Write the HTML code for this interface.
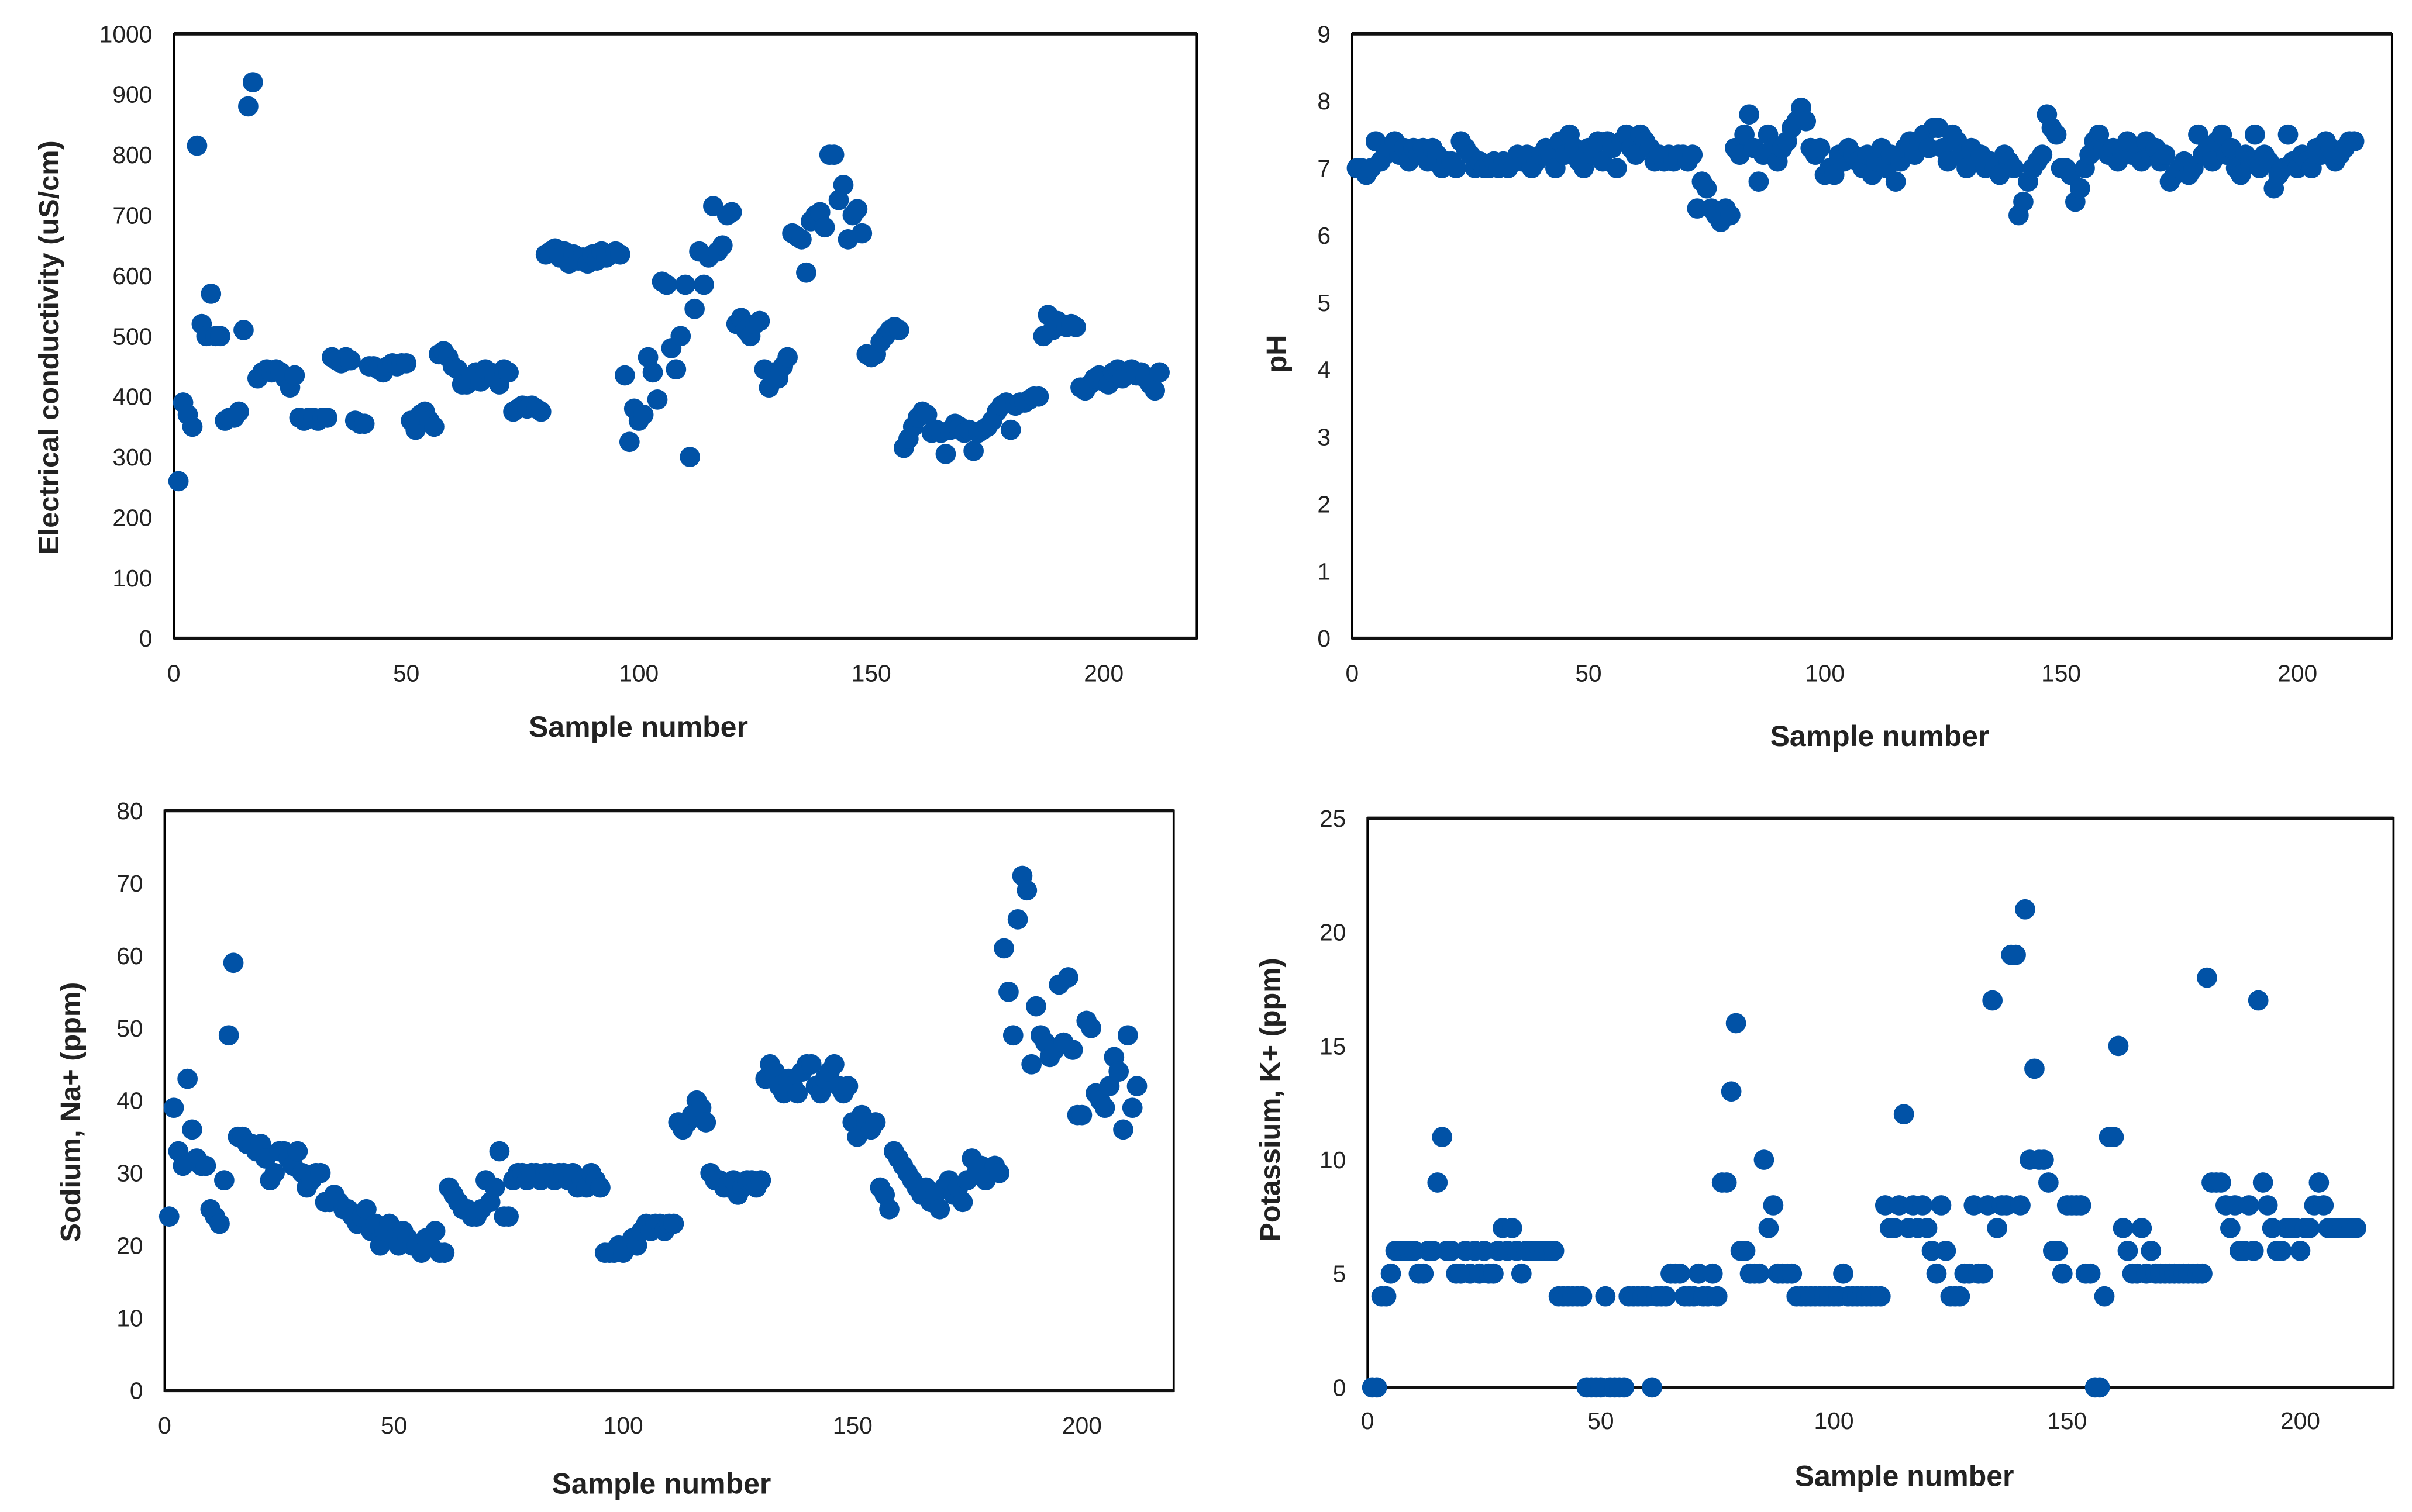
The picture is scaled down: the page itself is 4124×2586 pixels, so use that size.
<!DOCTYPE html>
<html><head><meta charset="utf-8"><style>
html,body{margin:0;padding:0;background:#fff;}
svg{display:block;}
text{font-family:"Liberation Sans",Arial,sans-serif;}
</style></head><body>
<svg id="fig" xmlns="http://www.w3.org/2000/svg" width="4124" height="2586" viewBox="0 0 1568 983" preserveAspectRatio="none"></svg>
<script>
const xTicks = [0, 50, 100, 150, 200];
const ecTicks = [0,100,200,300,400,500,600,700,800,900,1000];
const phTicks = [0,1,2,3,4,5,6,7,8,9];
const naTicks = [0,10,20,30,40,50,60,70,80];
const kTicks = [0,5,10,15,20,25];

const ecValues = [260,390,370,350,815,520,500,570,500,500,360,365,365,375,510,880,920,430,440,445,
440,445,440,430,415,435,365,360,365,365,360,365,365,465,460,455,465,460,360,355,
355,450,450,445,440,450,455,450,455,455,360,345,370,375,360,350,470,475,465,450,
445,420,420,430,440,425,445,440,430,420,445,440,375,380,385,380,385,380,375,635,
640,645,630,640,620,635,625,630,620,635,625,640,630,635,640,635,435,325,380,360,
370,465,440,395,590,585,480,445,500,585,300,545,640,585,630,715,640,650,700,705,
520,530,510,500,520,525,445,415,440,430,450,465,670,665,660,605,690,700,705,680,
800,800,725,750,660,700,710,670,
470,465,470,490,500,510,515,510,315,330,350,365,375,370,340,345,340,305,345,355,
350,340,345,310,340,345,350,360,375,385,390,345,385,390,390,395,400,400,500,535,
510,525,520,515,520,515,415,410,420,430,435,425,420,440,445,430,440,445,435,440,
430,420,410,440];

const phValues = [7.0,7.0,6.9,7.0,7.4,7.1,7.2,7.3,7.4,7.2,7.3,7.1,7.3,7.2,7.3,7.1,7.3,7.2,7.0,7.1,
7.1,7.0,7.4,7.3,7.2,7.0,7.1,7.0,7.0,7.1,7.0,7.1,7.0,7.1,7.2,7.1,7.2,7.0,7.1,7.2,
7.3,7.2,7.0,7.4,7.2,7.5,7.3,7.1,7.0,7.3,7.2,7.4,7.1,7.4,7.3,7.0,7.4,7.5,7.3,7.2,
7.5,7.4,7.3,7.1,7.2,7.1,7.2,7.1,7.2,7.2,7.1,7.2,
6.4,6.8,6.7,6.4,6.3,6.2,6.4,6.3,
7.3,7.2,7.5,7.8,7.3,6.8,7.2,7.5,7.3,7.1,7.3,7.4,7.6,7.7,7.9,7.7,7.3,7.2,7.3,6.9,
7.0,6.9,7.2,7.1,7.3,7.2,7.1,7.0,7.2,6.9,7.1,7.3,7.0,7.2,6.8,7.1,7.3,7.4,7.2,7.4,
7.5,7.3,7.6,7.6,7.3,7.1,7.5,7.4,7.2,7.0,7.3,7.1,7.2,7.0,7.1,7.0,6.9,7.2,7.1,7.0,
6.3,6.5,6.8,7.0,7.1,7.2,7.8,7.6,7.5,7.0,7.0,6.9,6.5,6.7,7.0,7.2,7.4,7.5,7.3,7.2,
7.3,7.1,7.2,7.4,7.2,7.3,7.1,7.4,7.2,7.3,7.1,7.2,6.8,6.9,7.0,7.1,6.9,7.0,7.5,7.2,
7.3,7.1,7.4,7.5,7.2,7.3,7.0,6.9,7.2,7.1,7.5,7.0,7.2,7.1,6.7,6.9,7.0,7.5,7.1,7.0,
7.2,7.1,7.0,7.3,7.2,7.4,7.3,7.1,7.2,7.3,7.4,7.4];

const naValues = [24,39,33,31,43,36,32,31,31,25,
24,23,29,49,59,35,35,34,34,33,
34,32,29,30,33,33,32,31,33,30,
28,29,30,30,26,26,27,26,25,25,
24,23,24,25,22,23,20,22,23,21,
20,22,21,20,20,19,21,20,22,19,
19,28,27,26,25,25,24,24,25,29,
26,28,33,24,24,29,30,30,29,30,
30,29,30,30,29,30,30,29,30,28,
29,28,30,29,28,19,19,19,20,19,
20,21,20,22,23,22,23,23,22,23,
23,37,36,37,38,40,39,37,30,29,
29,28,28,29,27,28,29,29,28,29,
43,45,44,42,41,43,42,41,44,45,
45,42,41,43,44,45,42,41,42,37,
35,38,37,36,37,28,27,25,33,32,
31,30,29,28,27,28,26,27,25,28,
29,27,28,26,29,32,30,31,29,30,
31,30,61,55,49,65,71,69,45,53,
49,48,46,47,56,48,57,47,38,38,
51,50,41,40,39,42,46,44,36,49,39,42];

const kValues = [0,0,4,4,5,6,6,6,6,6,
5,5,6,6,9,11,6,6,5,5,
6,5,6,5,6,5,5,6,7,6,
7,6,5,6,6,6,6,6,6,6,
4,4,4,4,4,4,0,0,0,0,
4,0,0,0,0,4,4,4,4,4,
0,4,4,4,5,5,5,4,4,4,
5,4,4,5,4,9,9,13,16,6,
6,5,5,5,10,7,8,5,5,5,
5,4,4,4,4,4,4,4,4,4,
4,5,4,4,4,4,4,4,4,4,
8,7,7,8,12,7,8,7,8,7,
6,5,8,6,4,4,4,5,5,8,
5,5,8,17,7,8,8,19,19,8,
21,10,14,10,10,9,6,6,5,8,
8,8,8,5,5,0,0,4,11,11,
15,7,6,5,5,7,5,6,5,5,
5,5,5,5,5,5,5,5,5,18,
9,9,9,8,7,8,6,6,8,6,
17,9,8,7,6,6,7,7,7,6,
7,7,8,9,8,7,7,7,7,7,7,7];

const NS = "http://www.w3.org/2000/svg";
const svg = document.getElementById('fig');
function mk(tag, attrs, parent){
  const e = document.createElementNS(NS, tag);
  for (const k in attrs) e.setAttribute(k, attrs[k]);
  (parent||svg).appendChild(e);
  return e;
}

function chart(cfg){
  const g = mk('g', {});
  
  
  const L=cfg.l, R=cfg.r, T=cfg.t, B=cfg.b;
  const ymax = cfg.yt[cfg.yt.length-1];
  const xs = v => L + (v/220)*(R-L);
  const ys = v => B - (v/ymax)*(B-T);
  const fr = mk('rect', {x:L, y:T, width:R-L, height:B-T, fill:'none', stroke:'#000', 'stroke-width':1.4}, g);
  
  
  const tl = mk('line', {x1:L, x2:R, y1:T, y2:T, stroke:'#111', 'stroke-width':2.2}, g);
  
  
  const bl = mk('line', {x1:L, x2:R, y1:B, y2:B, stroke:'#111', 'stroke-width':2.2}, g);
  
  
  cfg.yt.forEach(v => {
    const t = mk('text', {x:L-14, y:ys(v)+5.5, 'text-anchor':'end', 'font-size':15.5, fill:'#222'}, g);
    t.textContent = v;
    
    
  });
  xTicks.forEach(v => {
    const t = mk('text', {x:xs(v), y:B+cfg.xtOff, 'text-anchor':'middle', 'font-size':15.5, fill:'#222'}, g);
    t.textContent = v;
    
    
  });
  const xt = mk('text', {x:cfg.xtx, y:cfg.xty, 'text-anchor':'middle', 'font-size':19, 'font-weight':'bold', fill:'#222'}, g);
  xt.textContent = 'Sample number';
  
  
  const yt = mk('text', {x:0, y:0, 'text-anchor':'middle', 'font-size':cfg.yfs, 'font-weight':'bold', fill:'#222', transform:'translate('+cfg.ytx+','+cfg.yty+') rotate(-90)'}, g);
  yt.textContent = cfg.ylabel;
  
  
  cfg.data.forEach((v,i) => {
    const c = mk('circle', {cx:xs(i+1), cy:ys(v), r:6.6, fill:'#0152a6'}, g);
    
    
  });
}

chart({name:'ec-chart', l:113, r:778, t:22, b:415, yt:ecTicks, data:ecValues, xtOff:28, xtx:415, xty:479,
  ylabel:'Electrical conductivity (uS/cm)', ytx:38, yty:226, yfs:18.5});
chart({name:'ph-chart', l:879, r:1555, t:22, b:415, yt:phTicks, data:phValues, xtOff:28, xtx:1222, xty:485,
  ylabel:'pH', ytx:836, yty:230, yfs:18.5});
chart({name:'sodium-chart', l:107, r:763, t:527, b:904, yt:naTicks, data:naValues, xtOff:28, xtx:430, xty:971,
  ylabel:'Sodium, Na+ (ppm)', ytx:52, yty:723, yfs:18.5});
chart({name:'potassium-chart', l:889, r:1556, t:532, b:902, yt:kTicks, data:kValues, xtOff:27, xtx:1238, xty:966,
  ylabel:'Potassium, K+ (ppm)', ytx:832, yty:715, yfs:18.5});
</script>
</body></html>
